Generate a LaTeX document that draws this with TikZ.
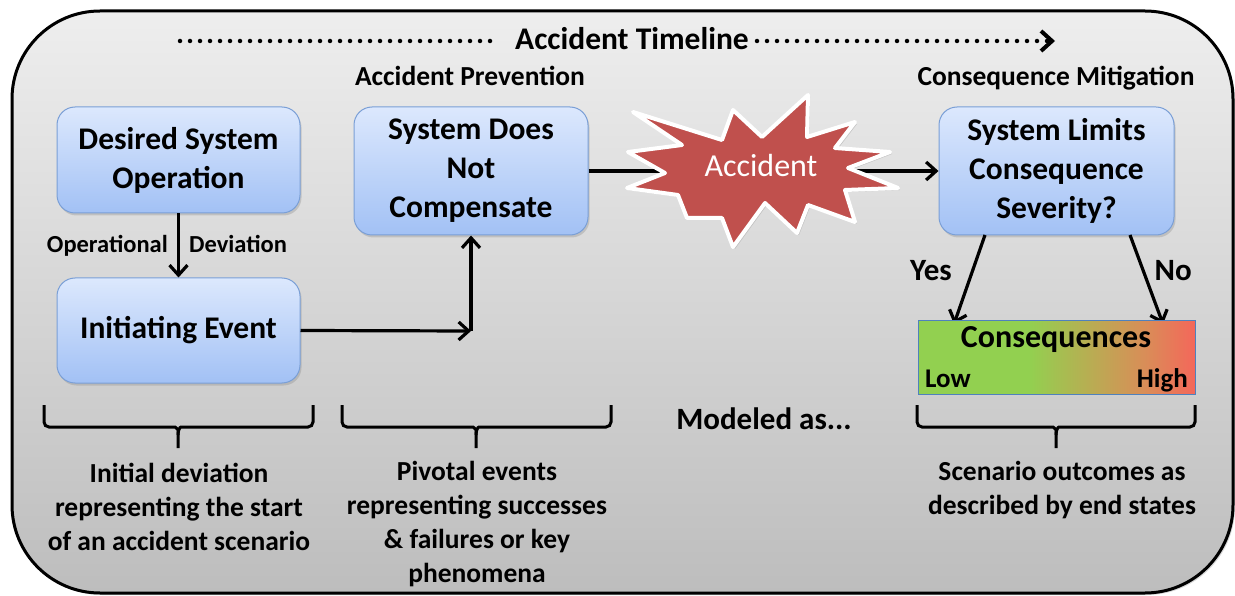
\documentclass[tikz,border=0pt]{standalone}
\usepackage{fontspec}
\setmainfont{Carlito}
\usetikzlibrary{arrows.meta,shadows}
\definecolor{boxtop}{HTML}{DCE8FD}
\definecolor{boxbot}{HTML}{A2C1F5}
\definecolor{boxline}{HTML}{7A9FD6}
\definecolor{bgtop}{HTML}{EEEEEE}
\definecolor{bgbot}{HTML}{BDBDBD}
\definecolor{starred}{HTML}{C0504D}
\definecolor{cgreen}{HTML}{92D050}
\definecolor{colive}{HTML}{B5B052}
\definecolor{corange}{HTML}{D98D58}
\definecolor{cred}{HTML}{F4675A}
\definecolor{barline}{HTML}{4F81BD}
\pgfdeclarehorizontalshading{conseq}{100bp}{color(0bp)=(cgreen); color(25bp)=(cgreen); color(45bp)=(cgreen); color(55bp)=(colive); color(66bp)=(corange); color(75bp)=(cred); color(100bp)=(cred)}
\begin{document}
\begin{tikzpicture}[x=1pt,y=-1pt,
  box/.style={draw=boxline, line width=1pt, rounded corners=18pt, top color=boxtop, bottom color=boxbot,
    align=center, font=\fontsize{31.5}{39}\selectfont\bfseries, inner sep=0pt,
    drop shadow={opacity=0.3, shadow xshift=1.5pt, shadow yshift=-2.5pt}},
  conn/.style={line width=3.2pt, -{Straight Barb[length=10pt,width=18pt]}},
  dotline/.style={line width=4.5pt, line cap=round, dash pattern=on 0pt off 10pt},
  brace/.style={line width=3pt, rounded corners=5pt},
  lbl/.style={inner sep=0pt, font=\fontsize{#1}{#1}\selectfont\bfseries},
  btext/.style={inner sep=0pt, align=center, font=\fontsize{27.5}{34}\selectfont\bfseries}
]
\useasboundingbox (0,0) rectangle (1235,596);
% outer frame
\draw[line width=3pt, top color=bgtop, bottom color=bgbot, rounded corners=88pt,
  drop shadow={opacity=0.3, shadow xshift=2pt, shadow yshift=-2pt}] (12,11) rectangle (1233,593);

% timeline
\node[lbl=31.5, anchor=base] (title) at (632,50) {Accident Timeline};
\coordinate (tlA) at (180,41);
\coordinate (tlB) at (494,41);
\coordinate (tlC) at (757,41);
\coordinate (tlD) at (1055,41);
\draw[dotline] (tlA) -- (tlB);
\draw[dotline, -{Straight Barb[length=11pt,width=20pt,line width=4pt]}] (tlC) -- (tlD);

% headings
\node[lbl=27.5, anchor=base] (prev) at (470,86) {Accident Prevention};
\node[lbl=27.5, anchor=base] (mitig) at (1056,86) {Consequence Mitigation};

% boxes
\node[box, minimum width=243pt, minimum height=106pt] (dso) at (178.5,160) {Desired System\\Operation};
\node[box, minimum width=234pt, minimum height=128pt] (sdnc) at (471,171) {System Does\\Not\\Compensate};
\node[box, minimum width=243pt, minimum height=105pt] (ie) at (178.5,330.5) {Initiating Event};
\node[box, minimum width=235pt, minimum height=128pt] (slcs) at (1056.5,171) {System Limits\\Consequence\\Severity?};

% connectors
\draw[conn] (dso.south) -- (ie.north);
\node[lbl=24.5, anchor=base east] (oplab) at (168,253) {Operational};
\node[lbl=24.5, anchor=base west] (devlab) at (189,253) {Deviation};
\coordinate (elbow) at (471,331);
\draw[conn] (ie.east) -- (elbow);
\draw[conn] (elbow) -- (sdnc.south);
\draw[conn] (sdnc.east) -- (slcs.west);

% star
\draw[white, line width=4pt, fill=starred, line join=round,
  drop shadow={opacity=0.3, shadow xshift=2pt, shadow yshift=-2pt}]
  (633,112) -- (722,140) -- (733,110) -- (762,137) -- (808,95) -- (807,137)
  -- (855,122) -- (835,148) -- (890,152) -- (848,168) -- (898,188) -- (845,190)
  -- (855,222) -- (808,205) -- (797,233) -- (765,203) -- (733,247) -- (722,218)
  -- (687,218) -- (678,195) -- (627,188) -- (665,173) -- (628,152) -- (682,145) -- cycle;
\node[inner sep=0pt, text=white, font=\fontsize{32}{32}\selectfont, anchor=base] (acc) at (761,177) {Accident};

% yes / no
\coordinate (yesS) at (985,235);
\coordinate (yesE) at (954,324);
\coordinate (noS) at (1130,235);
\coordinate (noE) at (1163,324);
\draw[conn] (yesS) -- (yesE);
\draw[conn] (noS) -- (noE);
\node[lbl=31, anchor=base west] (yes) at (910,280) {Yes};
\node[lbl=31, anchor=base east] (no) at (1192,280) {No};

% consequences bar
\node[draw=barline, line width=1pt, shade, shading=conseq, minimum width=277pt, minimum height=74pt, inner sep=0pt] (cq) at (1056.5,357) {};
\node[lbl=32, anchor=base] (cqt) at (1056,347) {Consequences};
\node[lbl=27, anchor=base west] (low) at (925,387) {Low};
\node[lbl=27, anchor=base east] (high) at (1188,387) {High};

% braces
\draw[brace] (44,405) -- (44,427) -- (170,427) .. controls (176,427) and (178,430) .. (178,435) -- (178,448);
\draw[brace] (313,405) -- (313,427) -- (186,427) .. controls (180,427) and (178,430) .. (178,435);
\draw[brace] (342,405) -- (342,427) -- (468,427) .. controls (474,427) and (476,430) .. (476,435) -- (476,448);
\draw[brace] (611,405) -- (611,427) -- (484,427) .. controls (478,427) and (476,430) .. (476,435);
\draw[brace] (917,405) -- (917,427) -- (1048,427) .. controls (1054,427) and (1056,430) .. (1056,435) -- (1056,448);
\draw[brace] (1195,405) -- (1195,427) -- (1064,427) .. controls (1058,427) and (1056,430) .. (1056,435);

% texts
\node[lbl=31, anchor=base] (mod) at (764,429) {Modeled as...};
\node[btext] (t1) at (179,507) {Initial deviation\\representing the start\\of an accident scenario};
\node[btext] (t2) at (477,524) {Pivotal events\\representing successes\\\& failures or key\\phenomena};
\node[btext] (t3) at (1062,490) {Scenario outcomes as\\described by end states};
\end{tikzpicture}
\end{document}
